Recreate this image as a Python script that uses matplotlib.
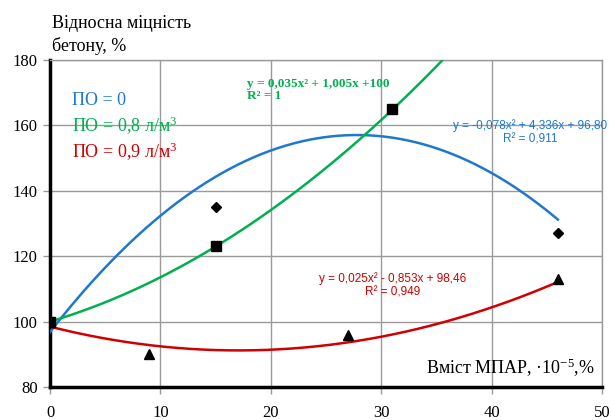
import matplotlib.pyplot as plt
import numpy as np

plt.rcParams.update({
    "font.family": "Liberation Serif",
    "mathtext.fontset": "custom",
    "mathtext.rm": "Liberation Serif",
    "mathtext.it": "Liberation Serif:italic",
})

# measured points
x_po0 = [0, 15, 46]
y_po0 = [100, 135, 127]
x_po08 = [0, 15, 31]
y_po08 = [100, 123, 165]
x_po09 = [0, 9, 27, 46]
y_po09 = [100, 90, 96, 113]

# trendline coefficients (a, b, c) as shown on the chart
coef_po0 = [-0.078, 4.336, 96.80]
coef_po08 = [0.035, 1.005, 100]
coef_po09 = [0.025, -0.853, 98.46]

x_ticks = [0, 10, 20, 30, 40, 50]
y_ticks = [80, 100, 120, 140, 160, 180]

BLUE = '#1f78d0'
GREEN = '#00b050'
RED = '#d00000'

fig = plt.figure(figsize=(6.12, 4.2), dpi=100)
ax = fig.add_axes([0.0817, 0.0786, 0.9020, 0.7785])

# trendlines
xs = np.linspace(0, 46, 200)
ax.plot(xs, np.polyval(coef_po0, xs), color=BLUE, lw=1.8, zorder=3)
ax.plot(xs, np.polyval(coef_po08, xs), color=GREEN, lw=1.8, zorder=3)
ax.plot(xs, np.polyval(coef_po09, xs), color=RED, lw=1.8, zorder=3)

# markers
ax.plot(x_po0, y_po0, 'D', color='black', ms=5.5, ls='none', zorder=4)
ax.plot(x_po09, y_po09, '^', color='black', ms=7.5, ls='none', zorder=4)
ax.plot(x_po08, y_po08, 's', color='black', ms=7.5, ls='none', zorder=5)

ax.set_xlim(0, 50)
ax.set_ylim(80, 180)
ax.set_xticks(x_ticks)
ax.set_yticks(y_ticks)
ax.grid(True, color='#9a9a9a', lw=1)
ax.set_axisbelow(True)

for side in ['top', 'right']:
    ax.spines[side].set_color('#9a9a9a')
    ax.spines[side].set_linewidth(1)
for side in ['left', 'bottom']:
    ax.spines[side].set_color('black')
    ax.spines[side].set_linewidth(2.5)

ax.tick_params(axis='y', labelsize=12, length=5, width=1, color='#9a9a9a', pad=4)
ax.tick_params(axis='x', labelsize=12, length=5, width=1, color='#9a9a9a', pad=8)

# titles
fig.text(0.085, 0.925, 'Відносна міцність', fontsize=13, ha='left', va='bottom')
fig.text(0.085, 0.868, 'бетону, %', fontsize=13, ha='left', va='bottom')
ax.text(49.3, 82.5, 'Вміст МПАР, ·10$^{-5}$,%', fontsize=13, ha='right', va='bottom')

# legend-like labels
ax.text(2.0, 167.5, 'ПО = 0', color=BLUE, fontsize=13, va='center')
ax.text(2.0, 159.8, 'ПО = 0,8 л/м$^3$', color=GREEN, fontsize=13, va='center')
ax.text(2.0, 152.0, 'ПО = 0,9 л/м$^3$', color=RED, fontsize=13, va='center')

# equations
ax.text(17.8, 174.5, 'y = 0,035x² + 1,005x +100\nR² = 1', color=GREEN,
        fontsize=9.5, fontweight='bold', ha='left', va='top', linespacing=1.0)
ax.text(43.5, 162.0, 'y = -0,078x² + 4,336x + 96,80\nR² = 0,911', color=BLUE,
        fontsize=8.5, family='Liberation Sans', ha='center', va='top',
        multialignment='center', linespacing=1.15)
ax.text(31.0, 115.0, 'y = 0,025x² - 0,853x + 98,46\nR² = 0,949', color=RED,
        fontsize=8.5, family='Liberation Sans', ha='center', va='top',
        multialignment='center', linespacing=1.15)

plt.savefig('out.png', dpi=100)
